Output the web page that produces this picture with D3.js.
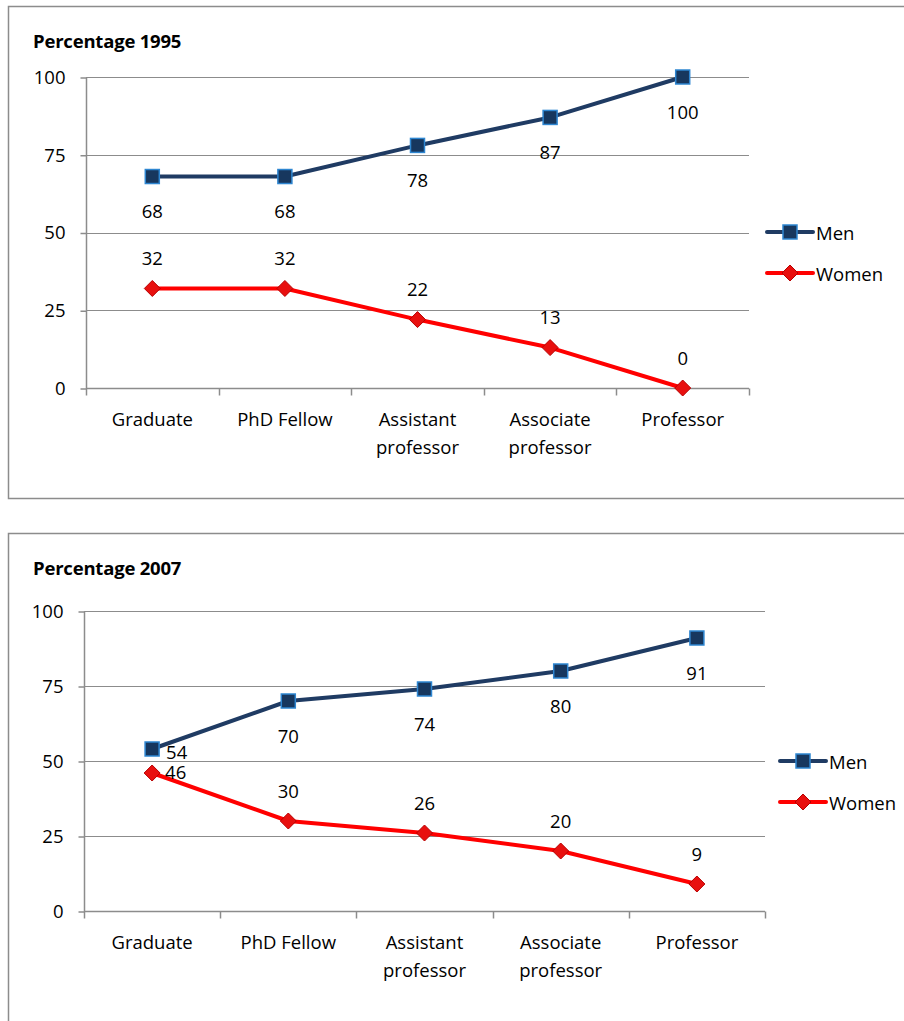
<!DOCTYPE html>
<html>
<head>
<meta charset="utf-8">
<script src="https://cdn.jsdelivr.net/npm/d3@7"></script>
<style>
  html, body { margin: 0; padding: 0; background: #fff; }
  svg { display: block; }
  text { font-family: "Open Sans", Lato, sans-serif; fill: #000; }
</style>
</head>
<body>
<svg id="c" width="904" height="1021"></svg>
<script>
const categories = ["Graduate", "PhD Fellow", "Assistant professor", "Associate professor", "Professor"];
const seriesNames = ["Men", "Women"];
const men1995 = [68, 68, 78, 87, 100];
const women1995 = [32, 32, 22, 13, 0];
const men2007 = [54, 70, 74, 80, 91];
const women2007 = [46, 30, 26, 20, 9];
const yTicks = [0, 25, 50, 75, 100];

const svg = d3.select("#c");
const FS = "18.5px";

const charts = [
  { title: "Percentage 1995", men: men1995, women: women1995,
    box: { x: 8.5, y: 6.5, w: 910, h: 492 },
    plot: { x0: 86, x1: 749, y0: 388, y1: 77 },
    legendX: 767, legendY: 232,
    menPos: ["below","below","below","below","below"],
    womenPos: ["above","above","above","above","above"] },
  { title: "Percentage 2007", men: men2007, women: women2007,
    box: { x: 8.5, y: 533.5, w: 910, h: 520 },
    plot: { x0: 84, x1: 765, y0: 911, y1: 611 },
    legendX: 780, legendY: 761,
    menPos: ["right","below","below","below","below"],
    womenPos: ["rightc","above","above","above","above"] }
];

const menColor = "#1F3B63", menFill = "#17375E", menStroke = "#2E86D1";
const womenColor = "#FF0000", womenFill = "#E8100F", womenStroke = "#B80000";

function square(g, x, y) {
  g.append("rect").attr("x", x - 7).attr("y", y - 7).attr("width", 14).attr("height", 14)
    .attr("fill", menFill).attr("stroke", menStroke).attr("stroke-width", 1.5);
}
function diamond(g, x, y) {
  g.append("path").attr("d", `M${x},${y-8}L${x+8},${y}L${x},${y+8}L${x-8},${y}Z`)
    .attr("fill", womenFill).attr("stroke", womenStroke).attr("stroke-width", 1);
}

charts.forEach(cfg => {
  const g = svg.append("g");
  g.append("rect").attr("x", cfg.box.x).attr("y", cfg.box.y).attr("width", cfg.box.w).attr("height", cfg.box.h)
    .attr("fill", "none").attr("stroke", "#8C8C8C").attr("stroke-width", 1.5);

  g.append("text").attr("x", 33).attr("y", cfg.box.y + 34)
    .attr("dominant-baseline", "central")
    .style("font-weight", "bold").style("font-size", "18.5px").style("letter-spacing", "-0.2px").text(cfg.title);

  const x = d3.scaleBand().domain(categories).range([cfg.plot.x0, cfg.plot.x1]).padding(0);
  const y = d3.scaleLinear().domain([0, 100]).range([cfg.plot.y0, cfg.plot.y1]);
  const cx = d => x(d) + x.bandwidth() / 2;

  // gridlines
  g.append("g").selectAll("line").data(yTicks.filter(t => t > 0)).join("line")
    .attr("x1", cfg.plot.x0).attr("x2", cfg.plot.x1)
    .attr("y1", d => Math.round(y(d)) + 0.5).attr("y2", d => Math.round(y(d)) + 0.5)
    .attr("stroke", "#8C8C8C").attr("stroke-width", 1.2);

  // y axis
  const yAxis = d3.axisLeft(y).tickValues(yTicks).tickSize(6).tickPadding(15);
  const ya = g.append("g").attr("transform", `translate(${cfg.plot.x0 + 0.5},0.5)`).call(yAxis);
  ya.selectAll("path,line").attr("stroke", "#8C8C8C").attr("stroke-width", 1.5);
  ya.select(".domain").attr("d", `M0,${cfg.plot.y1}V${cfg.plot.y0}`);
  ya.selectAll("text").style("font-size", FS).style("font-family", "'Open Sans', sans-serif").attr("fill", "#000");

  // x axis
  const xa = g.append("g").attr("transform", `translate(0,${cfg.plot.y0 + 0.5})`);
  xa.append("line").attr("x1", cfg.plot.x0).attr("x2", cfg.plot.x1).attr("stroke", "#8C8C8C").attr("stroke-width", 1.5);
  const bounds = categories.map(c => x(c)).concat([cfg.plot.x1]);
  xa.selectAll("line.tk").data(bounds).join("line").attr("class", "tk")
    .attr("x1", d => Math.round(d) + 0.5).attr("x2", d => Math.round(d) + 0.5)
    .attr("y1", 0).attr("y2", 7).attr("stroke", "#8C8C8C").attr("stroke-width", 1.5);
  categories.forEach(c => {
    const probe = xa.append("text").style("font-size", FS).text(c);
    const w = probe.node().getComputedTextLength();
    probe.remove();
    const words = c.split(" ");
    const lines = (w > x.bandwidth() - 10 && words.length > 1) ? [words[0], words.slice(1).join(" ")] : [c];
    lines.forEach((ln, i) => {
      xa.append("text").attr("x", cx(c)).attr("y", 30 + i * 28)
        .attr("text-anchor", "middle").attr("dominant-baseline", "central")
        .style("font-size", FS).text(ln);
    });
  });

  const line = d3.line().x((d, i) => cx(categories[i])).y(d => y(d));
  g.append("path").datum(cfg.men).attr("d", line).attr("fill", "none")
    .attr("stroke", menColor).attr("stroke-width", 4).attr("stroke-linejoin", "round");
  g.append("path").datum(cfg.women).attr("d", line).attr("fill", "none")
    .attr("stroke", womenColor).attr("stroke-width", 4).attr("stroke-linejoin", "round");

  cfg.men.forEach((v, i) => square(g, cx(categories[i]), y(v)));
  cfg.women.forEach((v, i) => diamond(g, cx(categories[i]), y(v)));

  function label(v, i, pos) {
    const px = cx(categories[i]), py = y(v);
    let lx = px, ly = py, anchor = "middle";
    if (pos === "below") ly = py + 34;
    else if (pos === "above") ly = py - 31;
    else if (pos === "right") { lx = px + 14; ly = py + 2; anchor = "start"; }
    else if (pos === "rightc") { lx = px + 13; ly = py - 2; anchor = "start"; }
    g.append("text").attr("x", lx).attr("y", ly).attr("text-anchor", anchor)
      .attr("dominant-baseline", "central").style("font-size", FS).text(v);
  }
  cfg.men.forEach((v, i) => label(v, i, cfg.menPos[i]));
  cfg.women.forEach((v, i) => label(v, i, cfg.womenPos[i]));

  // legend
  seriesNames.forEach((name, k) => {
    const ly = cfg.legendY + k * 41;
    const lx = cfg.legendX;
    g.append("line").attr("x1", lx).attr("x2", lx + 46).attr("y1", ly).attr("y2", ly)
      .attr("stroke", k === 0 ? menColor : womenColor).attr("stroke-width", 4).attr("stroke-linecap", "round");
    if (k === 0) square(g, lx + 23, ly); else diamond(g, lx + 23, ly);
    g.append("text").attr("x", lx + 49).attr("y", ly).attr("dominant-baseline", "central")
      .style("font-size", FS).text(name);
  });
});
</script>
</body>
</html>
